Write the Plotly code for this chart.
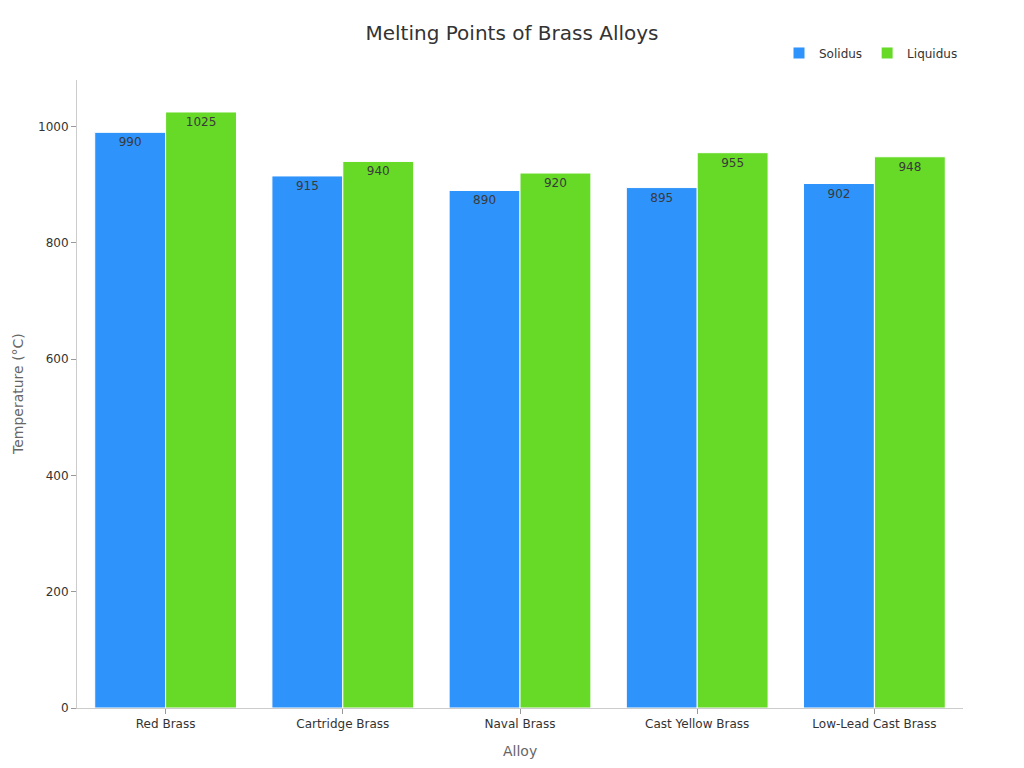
import plotly.graph_objects as go

alloys = ["Red Brass", "Cartridge Brass", "Naval Brass", "Cast Yellow Brass", "Low-Lead Cast Brass"]
solidus = [990, 915, 890, 895, 902]
liquidus = [1025, 940, 920, 955, 948]

font = "DejaVu Sans, Verdana, sans-serif"

fig = go.Figure()
fig.add_trace(go.Bar(
    name="Solidus", x=alloys, y=solidus,
    marker=dict(color="#2E93FA", line=dict(color="#ffffff", width=1)),
    text=solidus, textposition="inside", insidetextanchor="end",
    textfont=dict(color="#3a3a3a", size=12),
))
fig.add_trace(go.Bar(
    name="Liquidus", x=alloys, y=liquidus,
    marker=dict(color="#66DA26", line=dict(color="#ffffff", width=1)),
    text=liquidus, textposition="inside", insidetextanchor="end",
    textfont=dict(color="#3a3a3a", size=12),
))

# the page body adds an 8px margin, so the figure is drawn 8px smaller
fig.update_layout(
    width=1008, height=752,
    paper_bgcolor="white", plot_bgcolor="white",
    font=dict(family=font, color="#333333", size=12),
    title=dict(text="Melting Points of Brass Alloys", x=0.5, xanchor="center", xref="container",
               y=0.967, yanchor="middle", font=dict(size=20, color="#333333")),
    barmode="group", bargap=0.2, bargroupgap=0,
    margin=dict(l=69, r=53, t=72, b=52, autoexpand=False),
    showlegend=True,
    legend=dict(orientation="h", x=1.0, xanchor="right", y=1.043, yanchor="middle",
                font=dict(size=12, color="#333333")),
    uniformtext=dict(mode="show", minsize=12),
    annotations=[
        dict(text="Alloy", xref="paper", yref="paper", x=0.5, y=0, yshift=-43,
             xanchor="center", yanchor="middle", showarrow=False,
             font=dict(size=14, color="#666666")),
        dict(text="Temperature (°C)", xref="paper", yref="paper", x=0, y=0.5, xshift=-59,
             xanchor="center", yanchor="middle", textangle=-90, showarrow=False,
             font=dict(size=14, color="#666666")),
    ],
)
fig.update_xaxes(
    automargin=False,
    showline=True, linecolor="#cccccc", linewidth=1,
    ticks="outside", ticklen=5, tickcolor="#999999",
    tickfont=dict(size=12, color="#333333"), showgrid=False,
)
fig.update_yaxes(
    automargin=False,
    range=[0, 1080], tickvals=[0, 200, 400, 600, 800, 1000],
    showline=True, linecolor="#cccccc", linewidth=1,
    ticks="outside", ticklen=5, tickcolor="#999999",
    tickfont=dict(size=12, color="#333333"), showgrid=False, zeroline=False,
)

fig.write_html("out.html")
